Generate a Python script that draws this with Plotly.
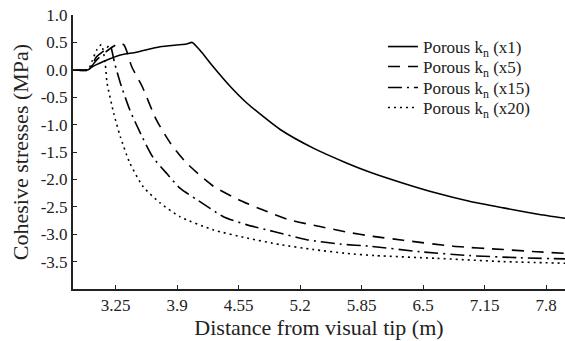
import plotly.graph_objects as go

# ---- data ----
x_kn1 = [2.80, 2.96, 3.00, 3.12, 3.30, 3.47, 3.72, 4.00, 4.06, 4.14, 4.28, 4.46, 4.64, 4.99, 5.34, 5.69,
         5.94, 6.29, 6.64, 6.99, 7.35, 7.70, 8.00]
y_kn1 = [0.00, 0.00, 0.05, 0.15, 0.27, 0.32, 0.42, 0.47, 0.50, 0.36, 0.06, -0.30, -0.61, -1.09, -1.43, -1.70,
         -1.87, -2.07, -2.25, -2.40, -2.52, -2.63, -2.71]

x_kn5 = [2.80, 2.96, 3.05, 3.15, 3.22, 3.30, 3.34, 3.37, 3.42, 3.53, 3.68, 3.83, 4.00, 4.28, 4.55, 4.81,
         5.09, 5.41, 5.69, 5.97, 6.29, 6.82, 7.35, 7.70, 8.00]
y_kn5 = [0.00, 0.00, 0.18, 0.33, 0.42, 0.49, 0.45, 0.33, 0.06, -0.30, -0.91, -1.34, -1.70, -2.12, -2.37, -2.56,
         -2.74, -2.86, -2.96, -3.04, -3.11, -3.22, -3.28, -3.32, -3.35]

x_kn15 = [2.80, 2.96, 3.05, 3.15, 3.19, 3.24, 3.30, 3.40, 3.53, 3.65, 3.79, 3.93, 4.11, 4.39, 4.64, 4.92,
          5.27, 5.62, 5.94, 6.47, 6.99, 7.52, 8.00]
y_kn15 = [0.00, 0.00, 0.24, 0.38, 0.46, 0.12, -0.24, -0.73, -1.22, -1.61, -1.89, -2.16, -2.37, -2.68, -2.83, -2.95,
          -3.10, -3.18, -3.22, -3.32, -3.39, -3.43, -3.45]

x_kn20 = [2.80, 2.96, 3.00, 3.05, 3.10, 3.14, 3.16, 3.23, 3.30, 3.40, 3.54, 3.72, 3.93, 4.28, 4.64, 4.99,
          5.34, 5.69, 5.99, 6.64, 7.35, 8.00]
y_kn20 = [0.00, 0.00, 0.15, 0.36, 0.46, 0.12, -0.24, -0.79, -1.22, -1.70, -2.13, -2.43, -2.68, -2.92, -3.07, -3.19,
          -3.28, -3.35, -3.39, -3.44, -3.50, -3.53]

series_names = ["Porous k<sub>n</sub> (x1)", "Porous k<sub>n</sub> (x5)",
                "Porous k<sub>n</sub> (x15)", "Porous k<sub>n</sub> (x20)"]

x_tickvals = [3.25, 3.9, 4.55, 5.2, 5.85, 6.5, 7.15, 7.8]
x_ticktext = ["3.25", "3.9", "4.55", "5.2", "5.85", "6.5", "7.15", "7.8"]
y_tickvals = [1.0, 0.5, 0.0, -0.5, -1.0, -1.5, -2.0, -2.5, -3.0, -3.5]
y_ticktext = ["1.0", "0.5", "0.0", "-0.5", "-1.0", "-1.5", "-2.0", "-2.5", "-3.0", "-3.5"]

FONT = "Liberation Serif"
dashes = ["solid", "12px,8px", "14px,5px,2px,5px", "2px,4px"]
xs = [x_kn1, x_kn5, x_kn15, x_kn20]
ys = [y_kn1, y_kn5, y_kn15, y_kn20]
legend_ids = ["legend", "legend2", "legend3", "legend4"]
legend_rows_px = [47, 67, 88, 108]   # vertical centre of each legend row (pixels from top)

fig = go.Figure()
for name, xv, yv, d, lg in zip(series_names, xs, ys, dashes, legend_ids):
    fig.add_trace(go.Scatter(x=xv, y=yv, mode="lines", name=name, legend=lg,
                             line=dict(color="black", width=1.6, dash=d, shape="spline", smoothing=0.6)))

plot_top, plot_h = 15, 274
legend_common = dict(x=0.63, xanchor="left", yanchor="middle", bgcolor="rgba(0,0,0,0)",
                     font=dict(family=FONT, size=17, color="#222"), itemwidth=30)
legends = {}
for lg, row in zip(legend_ids, legend_rows_px):
    legends[lg] = dict(legend_common, y=1 - (row - plot_top) / plot_h)

fig.update_layout(
    width=565, height=341,
    margin=dict(l=73, r=0, t=15, b=52),
    paper_bgcolor="white", plot_bgcolor="white",
    font=dict(family=FONT, color="#222", size=17),
    showlegend=True,
    xaxis=dict(range=[2.8, 8.0], tickmode="array", tickvals=x_tickvals, ticktext=x_ticktext,
               showgrid=False, zeroline=False, showline=True, linecolor="#222", linewidth=2,
               ticks="inside", ticklen=4, tickcolor="#222", tickfont=dict(family=FONT, size=17),
               title=dict(text="Distance from visual tip (m)", font=dict(family=FONT, size=22), standoff=4)),
    yaxis=dict(range=[-4.0, 1.0], tickmode="array", tickvals=y_tickvals, ticktext=y_ticktext,
               showgrid=False, zeroline=False, showline=True, linecolor="#222", linewidth=2,
               ticks="inside", ticklen=4, tickcolor="#222", tickfont=dict(family=FONT, size=17),
               title=dict(text="Cohesive stresses (MPa)", font=dict(family=FONT, size=22), standoff=6)),
    **legends,
)

fig.write_html("out.html")
